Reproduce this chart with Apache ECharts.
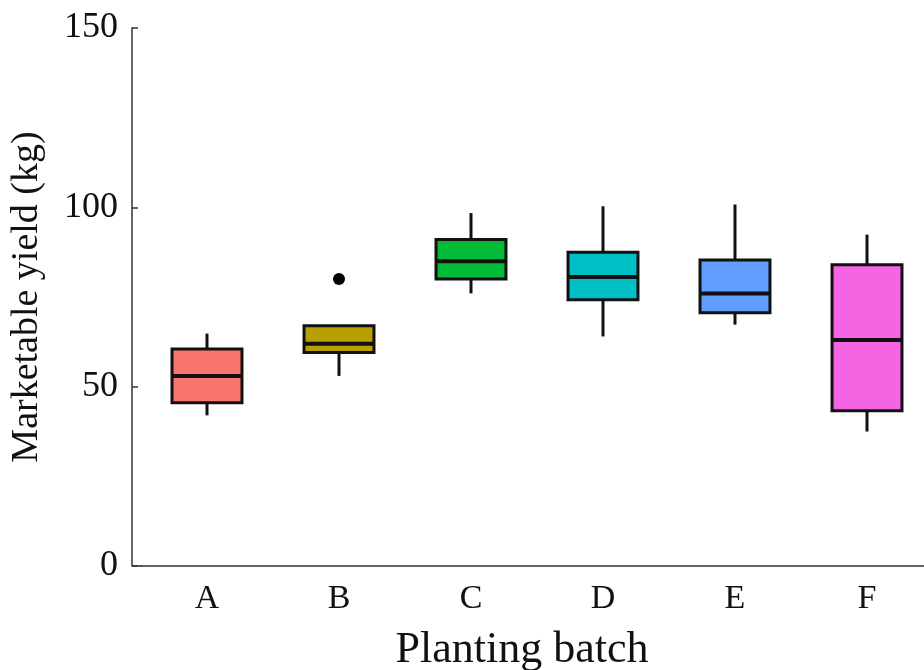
<!DOCTYPE html>
<html>
<head>
<meta charset="utf-8">
<script src="https://cdn.jsdelivr.net/npm/echarts@6/dist/echarts.min.js"></script>
<style>
html,body{margin:0;padding:0;background:#fff;}
#chart{width:924px;height:670px;}
</style>
</head>
<body>
<div id="chart"></div>
<script>
// ---- data ----
var categories = ['A', 'B', 'C', 'D', 'E', 'F'];
var whiskerLow  = [42, 53, 76, 64, 67.3, 37.5];
var q1Values    = [45.5, 59.5, 80, 74.2, 70.6, 43.3];
var medians     = [53, 62, 85, 80.6, 76, 63];
var q3Values    = [60.5, 67, 91, 87.5, 85.3, 84];
var whiskerHigh = [64.8, 67, 98.4, 100.3, 100.8, 92.4];
var outliers    = [['B', 80]];
var yTicks      = [0, 50, 100, 150];
var boxColors   = ['#F8766D', '#B79F00', '#00BA38', '#00BFC4', '#619CFF', '#F564E3'];

var boxData = categories.map(function (c, i) {
  return [i, whiskerLow[i], q1Values[i], medians[i], q3Values[i], whiskerHigh[i]];
});
var outlierData = outliers.map(function (o) { return [categories.indexOf(o[0]), o[1]]; });

var FONT = 'Liberation Serif';
var INK = '#111';

var chart = echarts.init(document.getElementById('chart'), null, { renderer: 'canvas' });
chart.setOption({
  backgroundColor: '#fff',
  animation: false,
  grid: { left: 141, width: 792, top: 28, bottom: 104, containLabel: false, outerBoundsMode: 'none' },
  xAxis: {
    type: 'category',
    data: categories,
    boundaryGap: true,
    name: 'Planting batch',
    nameLocation: 'middle',
    nameGap: 62,
    nameTextStyle: { fontFamily: FONT, fontSize: 44, color: INK, verticalAlign: 'top', padding: [0, 30, 0, 0] },
    axisLine: { lineStyle: { color: '#333', width: 1.5 } },
    axisTick: { inside: true, alignWithLabel: true, length: 5, lineStyle: { color: '#333', width: 1.5 } },
    axisLabel: { fontFamily: FONT, fontSize: 34, color: INK, margin: 16 },
    splitLine: { show: false }
  },
  yAxis: {
    type: 'value',
    min: yTicks[0],
    max: yTicks[yTicks.length - 1],
    interval: yTicks[1] - yTicks[0],
    offset: 9,
    name: 'Marketable yield (kg)',
    nameLocation: 'middle',
    nameGap: 86,
    nameTextStyle: { fontFamily: FONT, fontSize: 38, color: INK },
    axisLine: { show: true, lineStyle: { color: '#333', width: 1.5 } },
    axisTick: { show: true, inside: true, length: 6, lineStyle: { color: '#333', width: 1.5 } },
    axisLabel: { fontFamily: FONT, fontSize: 36, color: INK, margin: 14 },
    splitLine: { show: false }
  },
  graphic: [{
    type: 'line', z: 10,
    shape: { x1: 132, y1: 566, x2: 142, y2: 566 },
    style: { stroke: '#333', lineWidth: 1.5 }
  }],
  series: [
    {
      type: 'custom',
      data: boxData,
      encode: { x: 0, y: [1, 2, 3, 4, 5] },
      renderItem: function (params, api) {
        var x = api.value(0);
        var lo = api.coord([x, api.value(1)]);
        var q1 = api.coord([x, api.value(2)]);
        var med = api.coord([x, api.value(3)]);
        var q3 = api.coord([x, api.value(4)]);
        var hi = api.coord([x, api.value(5)]);
        var w = api.size([1, 0])[0] * 0.53 / 2;
        var stroke = { stroke: INK, lineWidth: 3 };
        return {
          type: 'group',
          children: [
            { type: 'line', shape: { x1: hi[0], y1: hi[1], x2: q3[0], y2: q3[1] }, style: stroke },
            { type: 'line', shape: { x1: q1[0], y1: q1[1], x2: lo[0], y2: lo[1] }, style: stroke },
            { type: 'rect', shape: { x: q3[0] - w, y: q3[1], width: 2 * w, height: q1[1] - q3[1] },
              style: { fill: boxColors[params.dataIndex], stroke: INK, lineWidth: 3 } },
            { type: 'line', shape: { x1: med[0] - w, y1: med[1], x2: med[0] + w, y2: med[1] },
              style: { stroke: INK, lineWidth: 4 } }
          ]
        };
      }
    },
    {
      type: 'scatter',
      data: outlierData,
      symbol: 'circle',
      symbolSize: 12,
      itemStyle: { color: '#000', opacity: 1 }
    }
  ]
});
</script>
</body>
</html>
